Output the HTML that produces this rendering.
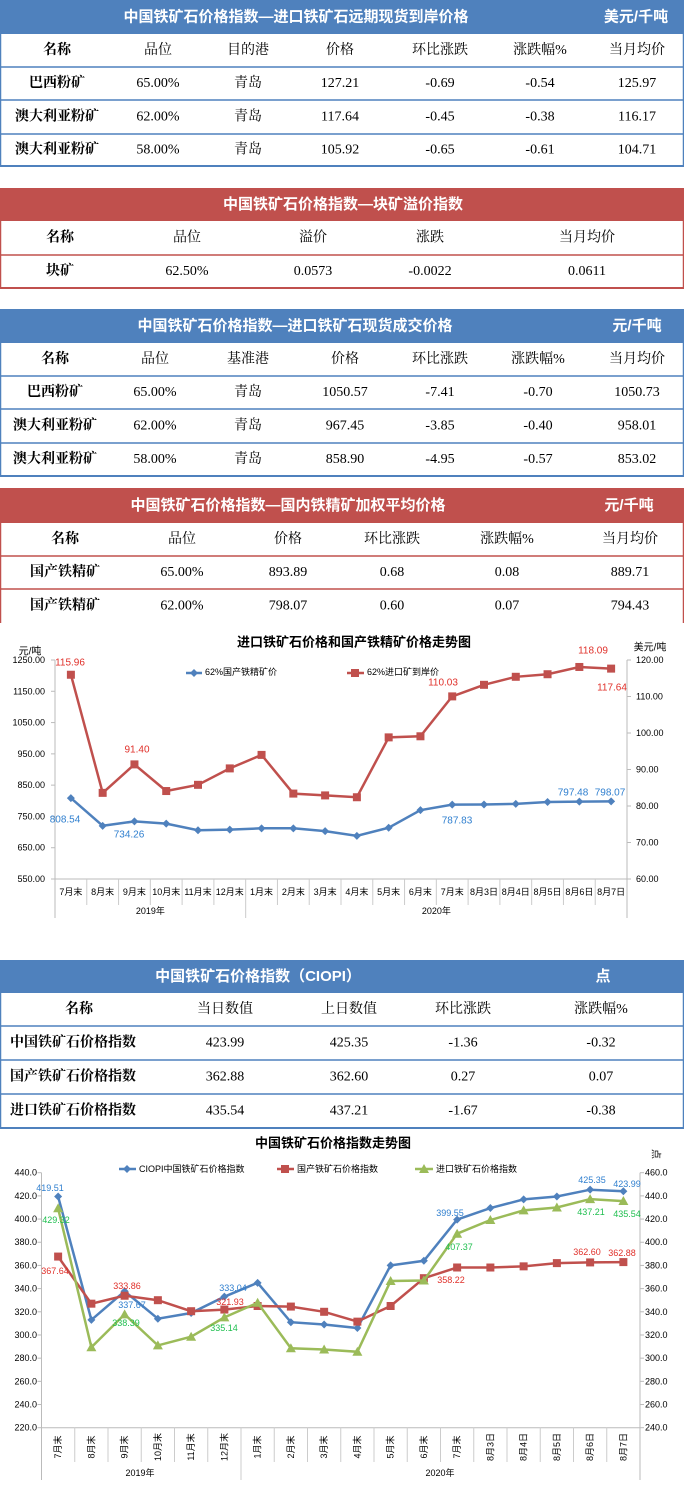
<!DOCTYPE html>
<html><head><meta charset="utf-8">
<style>
html,body{margin:0;padding:0;background:#fff;}
svg{display:block;}
.s{font-family:"Liberation Sans","Noto Sans CJK SC",sans-serif;}
.r{font-family:"Liberation Serif","Noto Serif CJK SC",serif;}
</style></head>
<body>
<svg id="p" width="684" height="1487" viewBox="0 0 684 1487" xmlns="http://www.w3.org/2000/svg"></svg>
<script>
var S=document.getElementById('p'),h='';
var B='#4f81bd',R='#c0504d',G='#9bbb59';
function t(x,y,s,o){o=o||{};h+='<text x="'+x+'" y="'+y+'" font-size="'+(o.fs||14)+'" fill="'+(o.c||'#000')+'" text-anchor="'+(o.a||'middle')+'" dominant-baseline="central" class="'+(o.cl||'r')+'"'+(o.b?' font-weight="bold"':'')+(o.tr?' transform="'+o.tr+'"':'')+'>'+s+'</text>';}
function rect(x,y,w,hh,f){h+='<rect x="'+x+'" y="'+y+'" width="'+w+'" height="'+hh+'" fill="'+f+'"/>';}
function ln(x1,y1,x2,y2,c,w){h+='<line x1="'+x1+'" y1="'+y1+'" x2="'+x2+'" y2="'+y2+'" stroke="'+c+'" stroke-width="'+(w||1)+'"/>';}
function table(col,top,hb,title,tx,unit,ux,rowsY,cols,rows,bottom,nobot,leftName){
  rect(0,top,684,hb-top,col);
  t(tx,(top+hb)/2,title,{c:'#fff',b:1,cl:'s',fs:15});
  if(unit)t(ux,(top+hb)/2,unit,{c:'#fff',b:1,cl:'s',fs:15});
  ln(0.5,hb,0.5,bottom,col,1.5);ln(683.5,hb,683.5,bottom,col,1.5);
  for(var i=0;i<rowsY.length;i++){ln(0,rowsY[i],684,rowsY[i],col,1.5);}
  if(!nobot)ln(0,bottom,684,bottom,col,2);
  var ys=[hb].concat(rowsY).concat([bottom]);
  for(var r=0;r<rows.length;r++){
    var yc=(ys[r]+ys[r+1])/2;
    for(var c=0;c<rows[r].length;c++){
      var o={fs:14};
      if(c==0){o.b=1;}
      if(c==0&&r>0&&leftName){o.a='start';t(10,yc,rows[r][c],o);}else t(cols[c],yc,rows[r][c],o);
    }
  }
}
table(B,0,34,'中国铁矿石价格指数—进口铁矿石远期现货到岸价格',296,'美元/千吨',636,[67,100,134],[57,158,248,340,440,540,637],
[['名称','品位','目的港','价格','环比涨跌','涨跌幅%','当月均价'],['巴西粉矿','65.00%','青岛','127.21','-0.69','-0.54','125.97'],['澳大利亚粉矿','62.00%','青岛','117.64','-0.45','-0.38','116.17'],['澳大利亚粉矿','58.00%','青岛','105.92','-0.65','-0.61','104.71']],166);
table(R,188,221,'中国铁矿石价格指数—块矿溢价指数',343,'',0,[255],[60,187,313,430,587],
[['名称','品位','溢价','涨跌','当月均价'],['块矿','62.50%','0.0573','-0.0022','0.0611']],288);
table(B,309,343,'中国铁矿石价格指数—进口铁矿石现货成交价格',295,'元/千吨',637,[376,409,443],[55,155,248,345,440,538,637],
[['名称','品位','基准港','价格','环比涨跌','涨跌幅%','当月均价'],['巴西粉矿','65.00%','青岛','1050.57','-7.41','-0.70','1050.73'],['澳大利亚粉矿','62.00%','青岛','967.45','-3.85','-0.40','958.01'],['澳大利亚粉矿','58.00%','青岛','858.90','-4.95','-0.57','853.02']],476);
table(R,488,523,'中国铁矿石价格指数—国内铁精矿加权平均价格',288,'元/千吨',629,[556,589],[65,182,288,392,507,630],
[['名称','品位','价格','环比涨跌','涨跌幅%','当月均价'],['国产铁精矿','65.00%','893.89','0.68','0.08','889.71'],['国产铁精矿','62.00%','798.07','0.60','0.07','794.43']],623,true);
table(B,960,993,'中国铁矿石价格指数（CIOPI）',258,'点',603,[1026,1060,1094],[79,225,349,463,601],
[['名称','当日数值','上日数值','环比涨跌','涨跌幅%'],['中国铁矿石价格指数','423.99','425.35','-1.36','-0.32'],['国产铁矿石价格指数','362.88','362.60','0.27','0.07'],['进口铁矿石价格指数','435.54','437.21','-1.67','-0.38']],1128,false,true);

var cats1=['7月末','8月末','9月末','10月末','11月末','12月末','1月末','2月末','3月末','4月末','5月末','6月末','7月末','8月3日','8月4日','8月5日','8月6日','8月7日'];
function marker(type,x,y,c){
 if(type=='d')h+='<polygon points="'+x+','+(y-4)+' '+(x+4)+','+y+' '+x+','+(y+4)+' '+(x-4)+','+y+'" fill="'+c+'"/>';
 else if(type=='s')h+='<rect x="'+(x-4)+'" y="'+(y-4)+'" width="8" height="8" fill="'+c+'"/>';
 else h+='<polygon points="'+x+','+(y-5)+' '+(x+5)+','+(y+4)+' '+(x-5)+','+(y+4)+'" fill="'+c+'"/>';
}
function series(xs,ys,c,type){var p=[];for(var i=0;i<xs.length;i++)p.push(xs[i].toFixed(1)+','+ys[i].toFixed(1));h+='<polyline points="'+p.join(' ')+'" fill="none" stroke="'+c+'" stroke-width="2.5"/>';for(i=0;i<xs.length;i++)marker(type,xs[i],ys[i],c);}

// Chart 1
(function(){
 var L=55,Rr=627,T=660,Bt=879,n=18,w=(Rr-L)/n;
 t(354,642,'进口铁矿石价格和国产铁精矿价格走势图',{b:1,cl:'s',fs:13});
 t(30,652,'元/吨',{cl:'s',fs:10});t(650,648,'美元/吨',{cl:'s',fs:10});
 ln(L,T,L,918,'#bbb');ln(Rr,T,Rr,918,'#bbb');ln(L,Bt,Rr,Bt,'#bbb');
 for(var v=550;v<=1250;v+=100){var y=Bt-(v-550)*(Bt-T)/700;ln(L-4,y,L,y,'#bbb');t(45,y,v.toFixed(2),{a:'end',cl:'s',fs:9});}
 for(v=60;v<=120;v+=10){y=Bt-(v-60)*(Bt-T)/60;ln(Rr,y,Rr+4,y,'#bbb');t(636,y,v.toFixed(2),{a:'start',cl:'s',fs:9});}
 var xs=[];for(var i=0;i<n;i++){xs.push(L+w*(i+.5));t(L+w*(i+.5),892,cats1[i],{cl:'s',fs:9});if(i>0)ln(L+w*i,Bt,L+w*i,i==6?918:905,'#ccc');}
 t(L+3*w,911,'2019年',{cl:'s',fs:9});t(L+6*w+6*w,911,'2020年',{cl:'s',fs:9});
 var bl=[808.54,720,734.26,727,706,708,712,712,703,688,714,770,787.83,788,790,796,797.48,798.07];
 var rd=[115.96,83.6,91.4,84.1,85.8,90.3,94,83.4,82.9,82.4,98.8,99.1,110.03,113.2,115.4,116.1,118.09,117.64];
 series(xs,bl.map(function(v){return Bt-(v-550)*(Bt-T)/700}),B,'d');
 series(xs,rd.map(function(v){return Bt-(v-60)*(Bt-T)/60}),R,'s');
 ln(186,673,202,673,B,2.5);marker('d',194,673,B);t(205,672,'62%国产铁精矿价',{a:'start',cl:'s',fs:9});
 ln(347,673,364,673,R,2.5);marker('s',355,673,R);t(367,672,'62%进口矿到岸价',{a:'start',cl:'s',fs:9});
 [[70,663,'115.96'],[137,750,'91.40'],[443,683,'110.03'],[593,651,'118.09'],[612,688,'117.64']].forEach(function(a){t(a[0],a[1],a[2],{c:'#e0302a',cl:'s',fs:10});});
 [[65,820,'808.54'],[129,835,'734.26'],[457,821,'787.83'],[573,793,'797.48'],[610,793,'798.07']].forEach(function(a){t(a[0],a[1],a[2],{c:'#2f7fcf',cl:'s',fs:10});});
})();

// Chart 2
(function(){
 var L=41.5,Rr=640,T=1172.7,Bt=1427.7,n=18,w=(Rr-L)/n,k=(Bt-T)/220;
 t(333,1143,'中国铁矿石价格指数走势图',{b:1,cl:'s',fs:13});
 t(655,1154,'点',{cl:'s',fs:10,tr:'rotate(90 655 1154)'});
 ln(L,T,L,1480,'#bbb');ln(Rr,T,Rr,1480,'#bbb');ln(L,Bt,Rr,Bt,'#bbb');
 for(var v=220;v<=440;v+=20){var y=Bt-(v-220)*k;ln(L-4,y,L,y,'#bbb');t(37,y,v.toFixed(1),{a:'end',cl:'s',fs:9});t(645,y,(v+20).toFixed(1),{a:'start',cl:'s',fs:9});ln(Rr,y,Rr+4,y,'#bbb');}
 var xs=[];for(var i=0;i<n;i++){var x=L+w*(i+.5);xs.push(x);t(x,1447,cats1[i],{cl:'s',fs:9,tr:'rotate(-90 '+x+' 1447)'});if(i>0)ln(L+w*i,Bt,L+w*i,i==6?1480:1462,'#ccc');}
 t(140,1473,'2019年',{cl:'s',fs:9});t(440,1473,'2020年',{cl:'s',fs:9});
 var bl=[419.51,313,337.67,314,319,333.04,345,311,309,306,360,364,399.55,409.5,417,419.5,425.35,423.99];
 var rd=[367.64,327,333.86,330,320.5,321.93,325,324.5,320,311.5,325,349,358.22,358.2,359.2,362,362.6,362.88];
 var gr=[429.32,309.4,337.8,311,318.5,335.14,347.8,308.5,307.5,305.5,366.6,367,407.37,419.2,427.5,430,437.21,435.54];
 function yl(v){return Bt-(v-220)*k;}function yr(v){return Bt-(v-240)*k;}
 series(xs,bl.map(yl),B,'d');series(xs,rd.map(yl),R,'s');series(xs,gr.map(yr),G,'t');
 ln(119,1169,136,1169,B,2.5);marker('d',127,1169,B);t(139,1169,'CIOPI中国铁矿石价格指数',{a:'start',cl:'s',fs:9});
 ln(277,1169,294,1169,R,2.5);marker('s',285,1169,R);t(297,1169,'国产铁矿石价格指数',{a:'start',cl:'s',fs:9});
 ln(415,1169,433,1169,G,2.5);marker('t',424,1169,G);t(436,1169,'进口铁矿石价格指数',{a:'start',cl:'s',fs:9});
 [[50,1188,'419.51'],[132,1305,'337.67'],[233,1288,'333.04'],[450,1213,'399.55'],[592,1180,'425.35'],[627,1184,'423.99']].forEach(function(a){t(a[0],a[1],a[2],{c:'#2f7fcf',cl:'s',fs:9});});
 [[55,1271,'367.64'],[127,1286,'333.86'],[230,1302,'321.93'],[451,1280,'358.22'],[587,1252,'362.60'],[622,1253,'362.88']].forEach(function(a){t(a[0],a[1],a[2],{c:'#e0302a',cl:'s',fs:9});});
 [[56,1220,'429.32'],[126,1323,'338.39'],[224,1328,'335.14'],[459,1247,'407.37'],[591,1212,'437.21'],[627,1214,'435.54']].forEach(function(a){t(a[0],a[1],a[2],{c:'#1fbf4f',cl:'s',fs:9});});
})();
S.innerHTML=h;
</script>
</body></html>
